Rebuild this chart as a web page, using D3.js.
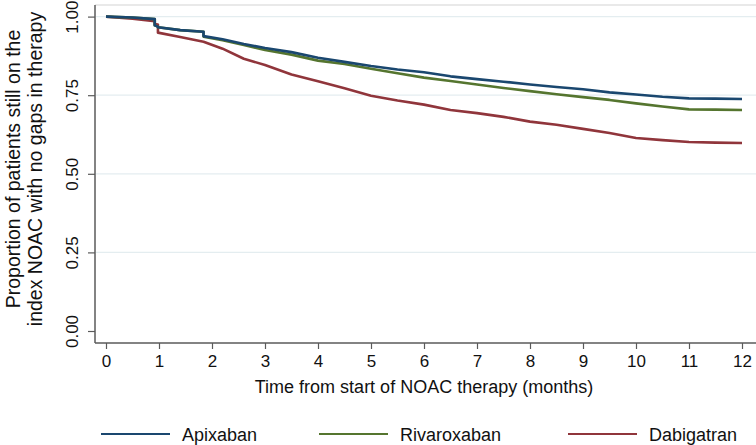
<!DOCTYPE html>
<html><head><meta charset="utf-8">
<script src="https://cdn.jsdelivr.net/npm/d3@7"></script>
<style>body{margin:0;background:#fff}svg{display:block;font-family:"Liberation Sans",Arial,sans-serif}</style>
</head><body><svg id="c" width="756" height="445"></svg>
<script>
// months since start of NOAC therapy (duplicated times = vertical steps)
const months = [0,0.5,0.92,0.92,0.98,0.98,1.4,1.84,1.84,2.2,2.6,3.0,3.5,4.0,4.5,5.0,5.5,6.0,6.5,7.0,7.5,8.0,8.5,9.0,9.5,10.0,10.5,11.0,11.5,12.0];
const apixaban = [1.0,0.997,0.992,0.972,0.968,0.966,0.957,0.952,0.938,0.928,0.913,0.900,0.887,0.869,0.856,0.843,0.832,0.823,0.810,0.801,0.793,0.784,0.776,0.769,0.759,0.752,0.745,0.740,0.739,0.738];
const rivaroxaban = [1.0,0.997,0.992,0.972,0.968,0.966,0.957,0.952,0.936,0.925,0.910,0.894,0.879,0.860,0.849,0.834,0.820,0.806,0.795,0.784,0.773,0.763,0.753,0.744,0.735,0.724,0.714,0.705,0.704,0.703];
const dabigatran = [1.0,0.993,0.985,0.976,0.975,0.949,0.935,0.920,0.920,0.898,0.866,0.846,0.816,0.794,0.772,0.748,0.733,0.720,0.703,0.693,0.681,0.666,0.656,0.643,0.630,0.614,0.607,0.601,0.599,0.598];
const seriesNames = ["Apixaban","Rivaroxaban","Dabigatran"];
const seriesColors = ["#1a476f","#55752f","#90353b"];
const xTicks = [0,1,2,3,4,5,6,7,8,9,10,11,12];
const yTicks = [0,0.25,0.5,0.75,1];
const xTitle = "Time from start of NOAC therapy (months)";
const yTitle = ["Proportion of patients still on the","index NOAC with no gaps in therapy"];

const svg = d3.select("#c");
const x = d3.scaleLinear().domain([0,12]).range([106,742]);
const y = d3.scaleLinear().domain([0,1]).range([331,16.6]);
const pL = 95, pR = 756, pT = 5, pB = 343;
const axisColor = "#5a5a5a";

// plot region top border
svg.append("line").attr("x1",pL).attr("x2",pR).attr("y1",pT).attr("y2",pT)
  .attr("stroke","#d4d4d4").attr("stroke-width",1.2);
// gridlines
svg.append("g").selectAll("line").data(yTicks.filter(d=>d>0)).join("line")
  .attr("x1",pL+1).attr("x2",pR).attr("y1",d=>y(d)).attr("y2",d=>y(d))
  .attr("stroke","#e4edf0").attr("stroke-width",1.2);

// axes
const gx = svg.append("g").attr("transform",`translate(0,${pB})`)
  .call(d3.axisBottom(x).tickValues(xTicks).tickFormat(d3.format("d")).tickSize(6).tickPadding(6));
gx.select(".domain").remove();
gx.selectAll(".tick line").attr("stroke",axisColor).attr("stroke-width",1.2);
gx.selectAll(".tick text").attr("font-size",17).attr("fill","#111").attr("font-family","Liberation Sans, Arial, sans-serif");

const gy = svg.append("g").attr("transform",`translate(${pL},0)`)
  .call(d3.axisLeft(y).tickValues(yTicks).tickFormat(d3.format(".2f")).tickSize(7));
gy.select(".domain").remove();
gy.selectAll(".tick line").attr("stroke",axisColor).attr("stroke-width",1.2);
gy.selectAll(".tick text").attr("font-size",17).attr("fill","#111")
  .attr("font-family","Liberation Sans, Arial, sans-serif")
  .attr("transform","rotate(-90)").attr("text-anchor","middle")
  .attr("x",0).attr("y",-17).attr("dy",0);

svg.append("line").attr("x1",pL).attr("x2",pL).attr("y1",pT).attr("y2",pB)
  .attr("stroke",axisColor).attr("stroke-width",1.5);
svg.append("line").attr("x1",pL).attr("x2",pR).attr("y1",pB).attr("y2",pB)
  .attr("stroke",axisColor).attr("stroke-width",1.5);

// curves
const allSeries = [apixaban,rivaroxaban,dabigatran];
const line = d3.line().x(d=>x(d[0])).y(d=>y(d[1]));
const order = [2,1,0];
order.forEach(i=>{
  svg.append("path").datum(months.map((m,j)=>[m,allSeries[i][j]]))
    .attr("d",line).attr("fill","none").attr("stroke",seriesColors[i])
    .attr("stroke-width",2.6).attr("stroke-linejoin","round");
});

// titles
svg.append("text").attr("x",424).attr("y",393).attr("text-anchor","middle")
  .attr("font-size",18).attr("fill","#111").text(xTitle);
yTitle.forEach((t,i)=>{
  svg.append("text").attr("transform",`translate(${20+i*22},169) rotate(-90)`)
    .attr("text-anchor","middle").attr("font-size",19.5).attr("fill","#111").text(t);
});

// legend
const legX = [101,319,568];
seriesNames.forEach((n,i)=>{
  svg.append("line").attr("x1",legX[i]).attr("x2",legX[i]+69).attr("y1",434).attr("y2",434)
    .attr("stroke",seriesColors[i]).attr("stroke-width",2.2);
  svg.append("text").attr("x",legX[i]+81).attr("y",441).attr("font-size",18).attr("fill","#111").text(n);
});
</script></body></html>
